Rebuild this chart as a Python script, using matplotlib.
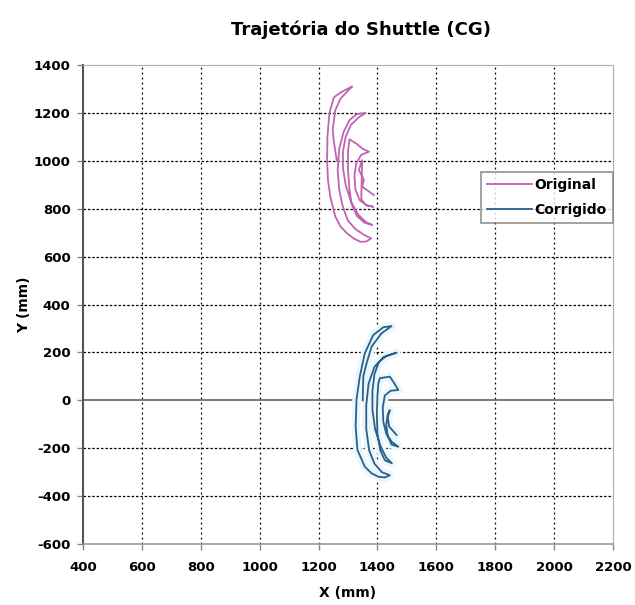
import matplotlib
matplotlib.use("Agg")
import matplotlib.pyplot as plt

plt.rcParams['font.family'] = ['DejaVu Sans']
plt.rcParams['font.weight'] = 'bold'
plt.rcParams['axes.unicode_minus'] = False

# trajectory (mm)
orig_x = [1262, 1252, 1248, 1257, 1275, 1297, 1314,
          1300, 1275, 1252, 1237, 1230, 1229, 1232, 1240, 1257, 1275, 1297, 1320, 1342, 1362, 1379,
          1355, 1325, 1300, 1282, 1270, 1265, 1270, 1285, 1305, 1330, 1360,
          1335, 1310, 1292, 1283, 1283, 1292, 1310, 1335, 1360, 1382,
          1355, 1330, 1312, 1305, 1300, 1300, 1305, 1330, 1350, 1371,
          1345, 1328, 1322, 1325, 1340, 1362, 1386,
          1360, 1345, 1348, 1337, 1354, 1348, 1388]
orig_y = [1000, 1080, 1130, 1212, 1260, 1289, 1310,
          1302, 1285, 1265, 1200, 1100, 1000, 920, 850, 767, 725, 697, 675, 662, 663, 676,
          690, 715, 750, 810, 880, 960, 1050, 1120, 1170, 1195, 1200,
          1180, 1150, 1100, 1040, 970, 900, 830, 775, 745, 732,
          742, 770, 820, 880, 960, 1040, 1090, 1070, 1050, 1038,
          1025, 990, 940, 880, 835, 815, 808,
          815, 840, 1003, 962, 920, 892, 857]

corr_x = [1350, 1352, 1363, 1380, 1414, 1448,
          1420, 1386, 1357, 1340, 1329, 1326, 1332, 1357, 1380, 1403, 1425, 1442,
          1415, 1390, 1372, 1362, 1362, 1370, 1390, 1420, 1465,
          1430, 1405, 1390, 1383, 1383, 1392, 1410, 1430, 1449,
          1425, 1410, 1400, 1398, 1400, 1403, 1408, 1442, 1455, 1471,
          1445, 1425, 1418, 1420, 1430, 1450, 1471,
          1448, 1435, 1430, 1435, 1442, 1435, 1440, 1465]
corr_y = [0, 100, 154, 224, 280, 310,
          305, 273, 196, 99, 4, -110, -207, -277, -305, -319, -322, -313,
          -300, -265, -210, -120, -20, 70, 140, 180, 199,
          185, 160, 110, 40, -40, -120, -190, -240, -263,
          -250, -210, -140, -60, 20, 70, 92, 99, 75, 43,
          40, 20, -30, -90, -140, -175, -194,
          -185, -150, -100, -60, -41, -70, -110, -145]

x_ticks = [400, 600, 800, 1000, 1200, 1400, 1600, 1800, 2000, 2200]
y_ticks = [-600, -400, -200, 0, 200, 400, 600, 800, 1000, 1200, 1400]

fig = plt.figure(figsize=(6.35, 6.05), dpi=100)
ax = fig.add_axes([83/635, 61/605, 530/635, 479/605])

# grid
for xv in x_ticks[1:-1]:
    ax.axvline(xv, color='black', lw=0.9, ls=(0, (1.5, 2.5)), zorder=1)
for yv in y_ticks[1:-1]:
    if yv != 0:
        ax.axhline(yv, color='black', lw=0.9, ls=(0, (2, 1.5)), zorder=1)
ax.axhline(0, color='#6e6e6e', lw=1.3, zorder=1)

# faint scan halo under the corrected curve
ax.plot(corr_x, corr_y, color='#eaf7fb', lw=6, solid_capstyle='round', zorder=2)
ax.plot(orig_x, orig_y, color='#c064b4', lw=1.3, label='Original', zorder=3)
ax.plot(corr_x, corr_y, color='#2c5f8c', lw=1.3, label='Corrigido', zorder=3)

ax.set_xlim(400, 2200)
ax.set_ylim(-600, 1400)
ax.set_xticks(x_ticks)
ax.set_yticks(y_ticks)
ax.tick_params(axis='both', labelsize=9.5, colors='#888888', labelcolor='black', length=4, width=1)
ax.tick_params(axis='x', pad=8)
ax.tick_params(axis='y', pad=5)
for lab in ax.get_xticklabels() + ax.get_yticklabels():
    lab.set_fontweight('bold')

ax.spines['left'].set_color('#555555')
ax.spines['left'].set_linewidth(1.5)
ax.spines['bottom'].set_color('#999999')
ax.spines['bottom'].set_linewidth(1.2)
ax.spines['top'].set_color('#b0b0b0')
ax.spines['right'].set_color('#b0b0b0')

ax.set_xlabel('X (mm)', fontsize=10, fontweight='bold', labelpad=9)
ax.set_ylabel('Y (mm)', fontsize=10, fontweight='bold', labelpad=2)
fig.text(361/635, 1 - 30/605, 'Trajetória do Shuttle (CG)', ha='center', va='center',
         fontsize=13, fontweight='bold')

leg = ax.legend(loc='upper left', bbox_to_anchor=(481/635, 1 - 172/605),
                bbox_transform=fig.transFigure, borderaxespad=0, frameon=True,
                fancybox=False, edgecolor='#777777', fontsize=10, handlelength=3.2,
                handletextpad=0.2, borderpad=0.45, labelspacing=0.75)
leg.get_frame().set_linewidth(1.2)
for t in leg.get_texts():
    t.set_fontweight('bold')

fig.savefig('out.png', dpi=100)
